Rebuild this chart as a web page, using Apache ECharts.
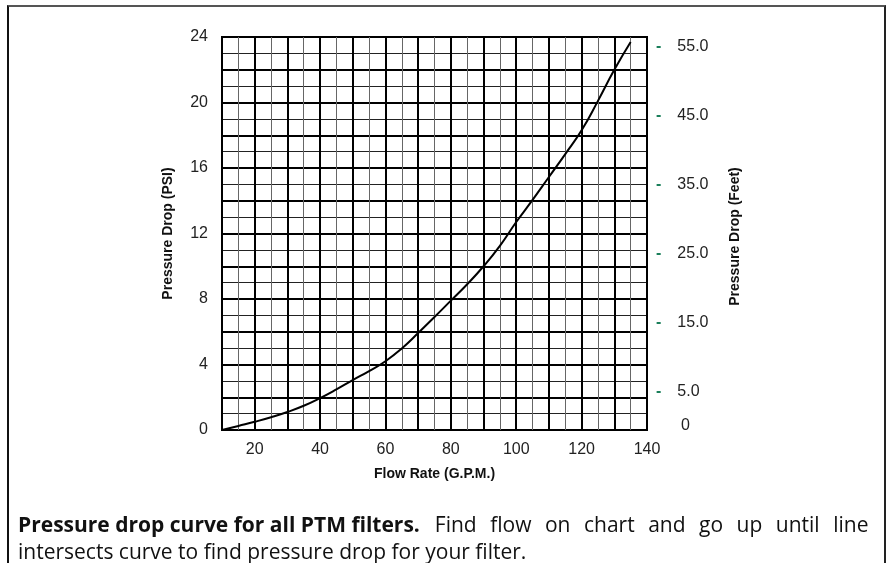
<!DOCTYPE html>
<html>
<head>
<meta charset="utf-8">
<script src="https://cdn.jsdelivr.net/npm/echarts@6/dist/echarts.min.js"></script>
<style>
  html, body { margin: 0; padding: 0; background: #fff; }
  #chart { width: 887px; height: 563px; }
  .frame {
    position: absolute; left: 7px; top: 5px; width: 875px; height: 600px;
    border-left: 2px solid #111; border-right: 2px solid #222; border-top: 2px solid #555;
    pointer-events: none;
  }
</style>
</head>
<body>
<div id="chart"></div>
<div class="frame"></div>
<script>
// flow rate (G.P.M.) and pressure drop (PSI)
const flow = [10, 15, 20, 25, 30, 35, 40, 45, 50, 55, 60, 65, 70, 75, 80, 85, 90, 95, 100, 105, 110, 115, 120, 125, 130, 135]
const psi = [0, 0.25, 0.5, 0.78, 1.1, 1.48, 1.95, 2.48, 3.05, 3.6, 4.2, 4.98, 5.92, 6.9, 7.9, 8.9, 10.0, 11.25, 12.7, 14.05, 15.45, 16.85, 18.3, 20.1, 22.0, 23.7]
const feetLabels = [5, 15, 25, 35, 45, 55]

const chart = echarts.init(document.getElementById('chart'))
const font = "'Liberation Sans', Arial, sans-serif"
const capFont = "'Open Sans', sans-serif"

// the first caption line is justified in the original, so its spaces are wider
const line1 = 'Find flow on chart and go up until line'.split(' ').map(w => '{n|' + w + '}').join('{w| }')

chart.setOption({
  animation: false,
  title: {
    left: 18, top: 513, padding: 0,
    text: '{b|Pressure drop curve for all PTM filters.}{g| }' + line1 + '\n{n|intersects curve to find pressure drop for your filter.}',
    textStyle: {
      rich: {
        b: { fontFamily: capFont, fontWeight: 'bold', fontSize: 21, color: '#111', lineHeight: 27 },
        n: { fontFamily: capFont, fontWeight: 'normal', fontSize: 21, color: '#111', lineHeight: 27 },
        w: { fontSize: 21, width: 13.5, lineHeight: 27 },
        g: { fontSize: 21, width: 15, lineHeight: 27 }
      }
    }
  },
  grid: [
    { left: 222, right: 240, top: 37, bottom: 133, show: true, borderColor: '#000', borderWidth: 2 },
    { left: 222, right: 240, top: 47, bottom: 137 }
  ],
  xAxis: [
    {
      type: 'value', min: 10, max: 140, interval: 10,
      name: 'Flow Rate (G.P.M.)', nameLocation: 'middle', nameGap: 37,
      nameTextStyle: { fontFamily: font, fontWeight: 'bold', fontSize: 14, color: '#111' },
      axisLine: { show: false }, axisTick: { show: false },
      axisLabel: { fontFamily: font, fontSize: 16, color: '#222', margin: 12, formatter: v => v % 20 === 0 ? v : '' },
      splitLine: { show: true, lineStyle: { color: '#000', width: 2 } },
      minorTick: { show: false, splitNumber: 2 },
      minorSplitLine: { show: true, lineStyle: { color: '#666', width: 1 } }
    },
    { gridIndex: 1, type: 'value', min: 10, max: 140, show: false }
  ],
  yAxis: [
    {
      type: 'value', min: 0, max: 24, interval: 2,
      name: 'Pressure Drop (PSI)', nameLocation: 'middle', nameGap: 47, nameRotate: 90,
      nameTextStyle: { fontFamily: font, fontWeight: 'bold', fontSize: 14, color: '#111' },
      axisLine: { show: false }, axisTick: { show: false },
      axisLabel: { fontFamily: font, fontSize: 16, color: '#222', margin: 14, formatter: v => v % 4 === 0 ? v : '' },
      splitLine: { show: true, lineStyle: { color: '#000', width: 2 } },
      minorTick: { show: false, splitNumber: 2 },
      minorSplitLine: { show: true, lineStyle: { color: '#222', width: 1 } }
    },
    {
      gridIndex: 1, type: 'value', position: 'right', min: 0, max: 55, interval: 5,
      name: 'Pressure Drop (Feet)', nameLocation: 'middle', nameGap: 81, nameRotate: 90,
      nameTextStyle: { fontFamily: font, fontWeight: 'bold', fontSize: 14, color: '#111' },
      axisLine: { show: false }, axisTick: { show: false }, splitLine: { show: false },
      axisLabel: {
        margin: 9,
        formatter: v => v === 0 ? '{p| }{v|0}' : (feetLabels.includes(v) ? '{d|-}{s| }{v|' + v.toFixed(1) + '}' : ''),
        rich: {
          d: { fontFamily: font, fontWeight: 'bold', fontSize: 16, color: '#1a7f5a' },
          s: { width: 16 },
          p: { width: 25 },
          v: { fontFamily: font, fontSize: 16, color: '#222' }
        }
      }
    }
  ],
  series: [{
    type: 'line', smooth: true, showSymbol: false,
    data: flow.map((f, i) => [f, psi[i]]),
    lineStyle: { color: '#000', width: 2 }
  }]
})
</script>
</body>
</html>
